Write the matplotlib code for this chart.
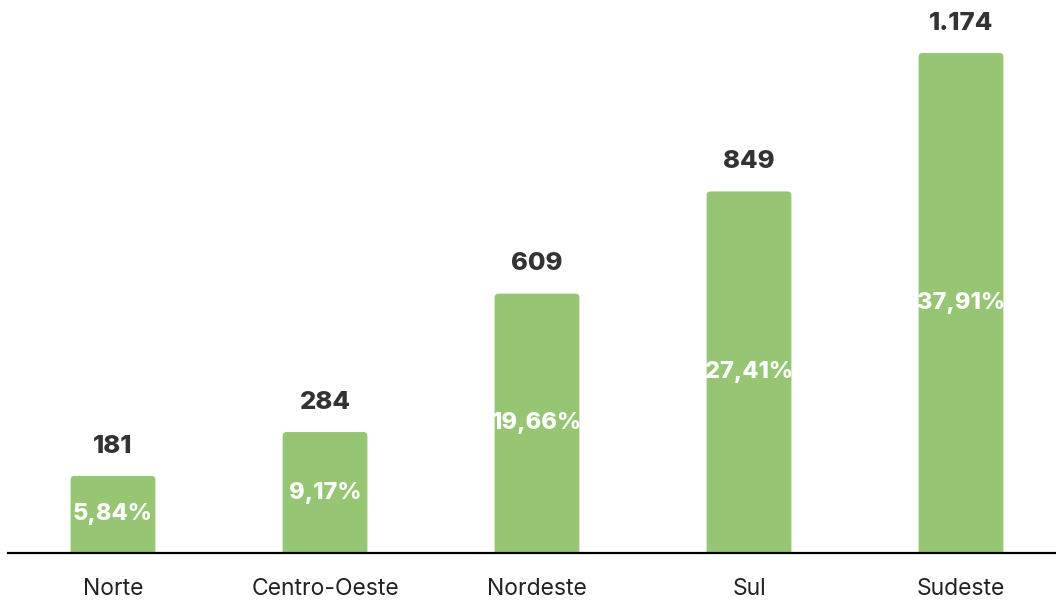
import matplotlib
matplotlib.use('Agg')
import matplotlib.pyplot as plt
from matplotlib.patches import FancyBboxPatch

regioes = ['Norte', 'Centro-Oeste', 'Nordeste', 'Sul', 'Sudeste']
valores = [181, 284, 609, 849, 1174]
rotulos = ['181', '284', '609', '849', '1.174']
percentuais = ['5,84%', '9,17%', '19,66%', '27,41%', '37,91%']

plt.rcParams['font.family'] = ['Inter', 'DejaVu Sans']

fig = plt.figure(figsize=(10.56, 6), dpi=100)
ax = fig.add_axes([8 / 1056, 47 / 600, 1 - 8 / 1056, 553 / 600])

verde = '#96c673'
escuro = '#333333'
largura = 0.40
ymax = 553 * max(valores) / 500
ax.set_xlim(-105 / 212, 943 / 212)
ax.set_ylim(0, ymax)

# aspecto para cantos arredondados (unid. y por unid. x)
aspecto = (ymax / 553) / (1 / 212)
raio = 4 / 212

for i, v in enumerate(valores):
    # retangulo com cantos arredondados; a base fica escondida abaixo do eixo
    p = FancyBboxPatch((i - largura / 2 + raio, -50 + raio * aspecto),
                       largura - 2 * raio, v + 50 - 2 * raio * aspecto,
                       boxstyle='round', mutation_aspect=aspecto,
                       fc=verde, ec='none', clip_on=True)
    p.set_boxstyle('round', pad=raio, rounding_size=raio)
    ax.add_patch(p)
    ax.annotate(rotulos[i], (i, v), xytext=(0, 21.5), textcoords='offset points',
                ha='center', va='center', fontsize=18.5, fontweight='heavy', color=escuro)
    ax.text(i, v / 2, percentuais[i], ha='center', va='center',
            fontsize=17, fontweight='heavy', color='white')
    ax.annotate(regioes[i], (i, 0), xycoords=('data', 'axes fraction'),
                xytext=(0, -26), textcoords='offset points',
                ha='center', va='center', fontsize=16.5, color='#222222',
                annotation_clip=False)

ax.axhline(0, color='black', lw=1.6, clip_on=False)
for s in ax.spines.values():
    s.set_visible(False)
ax.set_xticks([])
ax.set_yticks([])

fig.savefig('out.png', dpi=100)
